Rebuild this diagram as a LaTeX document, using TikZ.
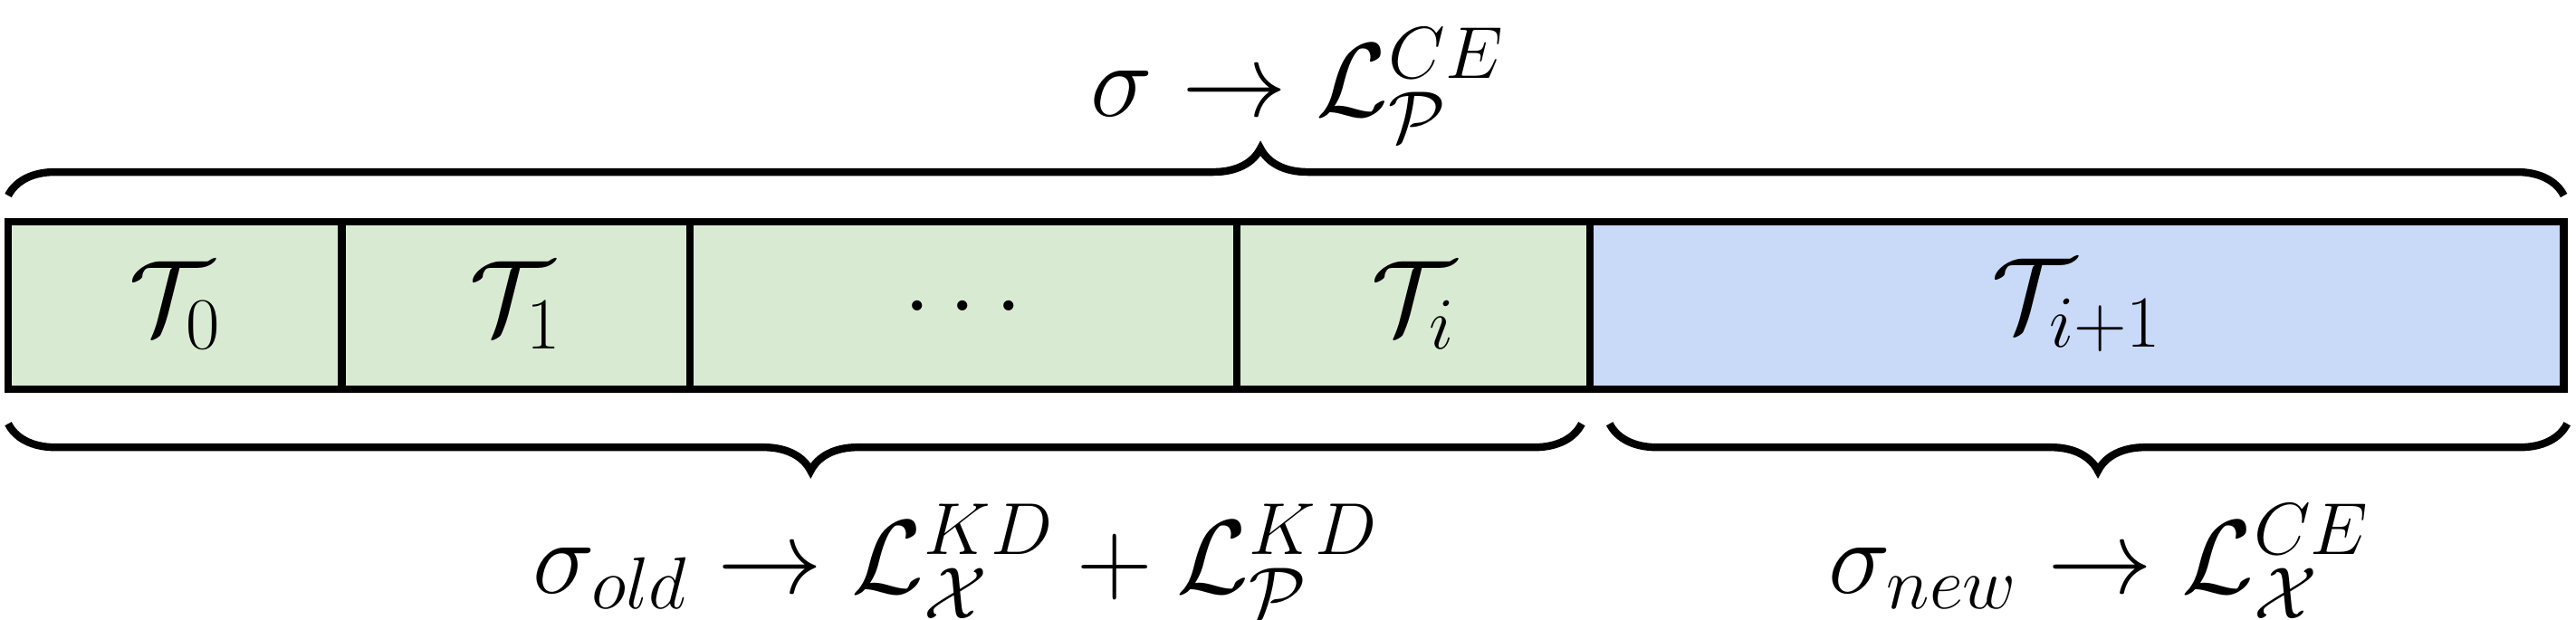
\documentclass[tikz,border=0pt]{standalone}
\usepackage{fix-cm}
\usetikzlibrary{decorations.pathreplacing}
\definecolor{gbox}{HTML}{D9EAD3}
\definecolor{bbox}{HTML}{C9DAF8}
\tikzset{cell/.style={draw=black,line width=2.4pt,fill=gbox},
 br/.style={line width=2.4pt,decorate,decoration={brace,amplitude=5.2mm}},
 lab/.style={font=\fontsize{33}{40}\selectfont,inner sep=0pt}}
\begin{document}
\begin{tikzpicture}[x=0.1814mm,y=0.1814mm]
\useasboundingbox (0,0) rectangle (1568.4,377.1);
\draw[cell] (5,140) rectangle (208,242) node[midway,lab] (c0) {$\mathcal{T}_0$};
\draw[cell] (208,140) rectangle (420,242) node[midway,lab] (c1) {$\mathcal{T}_1$};
\draw[cell] (420,140) rectangle (753,242) node[midway,lab] (c2) {$\ldots$};
\draw[cell] (753,140) rectangle (968,242) node[midway,lab] (c3) {$\mathcal{T}_i$};
\draw[cell,fill=bbox] (968,140) rectangle (1561,242) node[midway,lab] (c4) {$\mathcal{T}_{i+1}$};
\coordinate (t1) at (5,258); \coordinate (t2) at (1561,258);
\draw[br,decoration={aspect=0.49}] (t1) -- (t2);
\node[lab] (l1) at (790,325) {$\sigma \rightarrow \mathcal{L}^{CE}_{\mathcal{P}}$};
\coordinate (b1) at (963,119); \coordinate (b2) at (5,119);
\draw[br,decoration={aspect=0.49}] (b1) -- (b2);
\node[lab] (l2) at (582,35) {$\sigma_{old} \rightarrow \mathcal{L}^{KD}_{\mathcal{X}} + \mathcal{L}^{KD}_{\mathcal{P}}$};
\coordinate (b3) at (1563,119); \coordinate (b4) at (980,119);
\draw[br,decoration={aspect=0.49}] (b3) -- (b4);
\node[lab] (l3) at (1278,35) {$\sigma_{new} \rightarrow \mathcal{L}^{CE}_{\mathcal{X}}$};
\end{tikzpicture}
\end{document}
